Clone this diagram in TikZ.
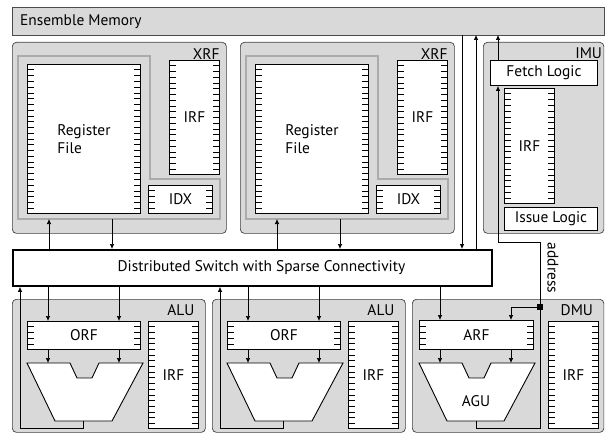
\documentclass[tikz,border=0pt]{standalone}
\usepackage{fontspec}
\setmainfont{PT Sans}
\usetikzlibrary{arrows.meta,calc}
\tikzset{
  unit/.style={draw=black!75, line width=0.7pt, fill=black!15, rounded corners=4pt, inner sep=0pt, anchor=north west},
  box/.style={draw, line width=0.9pt, fill=white, inner sep=0pt, anchor=north west},
  tag/.style={anchor=north east, inner sep=0pt},
  sig/.style={line width=0.7pt, -{Latex[length=5pt,width=4.5pt]}},
  wire/.style={line width=0.7pt},
}
%% tick marks on both inner sides of a register box
\newcommand\regticks[2]{%
  \foreach \k in {1,...,#2}{%
    \draw[line width=0.6pt] ($(#1.north west)!{\k/(#2+1)}!(#1.south west)$) -- ++(6.5,0);
    \draw[line width=0.6pt] ($(#1.north east)!{\k/(#2+1)}!(#1.south east)$) -- ++(-6.5,0);
  }}
\begin{document}
\begin{tikzpicture}[x=1pt, y=-1pt, font=\fontsize{15.4}{17.5}\selectfont]
  \useasboundingbox (0,0) rectangle (605,433);
  %% Ensemble memory and switch
  \node[draw=black!70, line width=0.7pt, fill=black!15, anchor=north west, inner sep=0pt,
        minimum width=591.5pt, minimum height=28pt] (mem) at (12,7) {};
  \node[anchor=west, inner sep=0pt] (memt) at ([xshift=8pt]mem.west) {Ensemble Memory};
  \node[box, line width=1.8pt, minimum width=479pt, minimum height=36pt] (sw) at (12,249) {};
  \node (swt) at ([xshift=9pt]sw.center) {Distributed Switch with Sparse Connectivity};
  %% XRF units
  \foreach \n/\xo in {1/0, 2/228}{
    \node[unit, minimum width=214pt, minimum height=191pt] (xrf\n) at (12+\xo,42) {};
    \node[tag] (xrft\n) at ([shift={(-7,6)}]xrf\n.north east) {XRF};
    \draw[black!33, line width=2.5pt] (18+\xo,56) -- ++(132,0) -- ++(0,123) -- ++(70,0)
      -- ++(0,40) -- ++(-202,0) -- cycle;
    \node[box, minimum width=113pt, minimum height=149pt, align=left] (rf\n) at (27+\xo,64) {Register\\File};
    \node[box, minimum width=50pt, minimum height=114pt] (irfx\n) at (169+\xo,60) {IRF};
    \node[box, minimum width=64pt, minimum height=28pt] (idx\n) at (148+\xo,185) {IDX};
    \regticks{rf\n}{25}
    \regticks{irfx\n}{19}
    \regticks{idx\n}{4}
    \coordinate (xin\n) at (49+\xo,219);
    \coordinate (xout\n) at (112+\xo,219);
    \draw[sig] (xin\n |- sw.north) -- (xin\n);
    \draw[sig] (xout\n) -- (xout\n |- sw.north);
  }
  %% IMU
  \node[unit, minimum width=120.5pt, minimum height=191pt] (imu) at (483,42) {};
  \node[tag] (imut) at ([shift={(-2,6)}]imu.north east) {IMU};
  \node[box, minimum width=107pt, minimum height=25pt] (fetch) at (490,60) {Fetch Logic};
  \node[box, minimum width=50pt, minimum height=115pt] (irfi) at (504,88) {IRF};
  \node[box, minimum width=93pt, minimum height=23pt] (issue) at (504,207) {Issue Logic};
  \regticks{irfi}{19}
  %% memory links
  \coordinate (m2s) at (462,35);
  \coordinate (s2m) at (476,35);
  \coordinate (f2m) at (498,35);
  \draw[sig] (m2s) -- (m2s |- sw.north);
  \draw[sig] (s2m |- sw.north) -- (s2m);
  \draw[sig] (f2m |- fetch.north) -- (f2m);
  %% ALU units
  \foreach \n/\xo in {1/0, 2/200}{
    \node[unit, minimum width=193pt, minimum height=133pt] (alu\n) at (12+\xo,299) {};
    \node[tag] (alut\n) at ([shift={(-11,5)}]alu\n.north east) {ALU};
    \node[box, minimum width=113pt, minimum height=28pt] (orf\n) at (27+\xo,321) {ORF};
    \node[box, minimum width=50pt, minimum height=107pt] (irfa\n) at (148+\xo,321) {IRF};
    \regticks{orf\n}{4}
    \regticks{irfa\n}{18}
    \draw[line width=0.9pt, fill=white] (27+\xo,363) -- ++(43,0) -- ++(7,15) -- ++(15,0)
      -- ++(7,-15) -- ++(44,0) -- ++(-31,58) -- ++(-57,0) -- cycle;
    \coordinate (ain\n) at (48+\xo,363);
    \coordinate (bin\n) at (119+\xo,363);
    \coordinate (aout\n) at (83+\xo,421);
    \coordinate (ret\n) at (20+\xo,428);
    \draw[sig] (ain\n |- sw.south) -- (ain\n |- orf\n.north);
    \draw[sig] (bin\n |- sw.south) -- (bin\n |- orf\n.north);
    \draw[sig] (ain\n |- orf\n.south) -- (ain\n);
    \draw[sig] (bin\n |- orf\n.south) -- (bin\n);
    \draw[sig] (aout\n) |- (ret\n) -- (ret\n |- sw.south);
  }
  %% DMU
  \node[unit, minimum width=191.5pt, minimum height=133pt] (dmu) at (412,299) {};
  \node[tag] (dmut) at ([shift={(-11,5)}]dmu.north east) {DMU};
  \node[box, minimum width=114pt, minimum height=29pt] (arf) at (419,320) {ARF};
  \node[box, minimum width=50pt, minimum height=107pt] (irfd) at (548,321) {IRF};
  \regticks{arf}{4}
  \regticks{irfd}{18}
  \draw[line width=0.9pt, fill=white] (419,363) -- ++(43,0) -- ++(7,15) -- ++(15,0)
    -- ++(7,-15) -- ++(44,0) -- ++(-31,58) -- ++(-57,0) -- cycle;
  \node (agu) at (476,401) {AGU};
  \coordinate (din) at (440,363);
  \coordinate (dbin) at (511,363);
  \coordinate (dout) at (476,421);
  \coordinate (dret) at (540,428);
  \coordinate (jn) at (540,307);
  \coordinate (addr) at (498,242);
  \draw[sig] (din |- sw.south) -- (din |- arf.north);
  \draw[sig] (din |- arf.south) -- (din);
  \draw[sig] (dbin |- arf.south) -- (dbin);
  %% address path back to fetch logic
  \draw[wire] (dout) |- (dret) -- (jn);
  \draw[sig] (jn) -| (dbin |- arf.north);
  \draw[sig] (jn) |- (addr) -- (addr |- fetch.south);
  \fill (jn) +(-3,-3) rectangle +(3,3);
  \node[rotate=-90] (addrt) at (553,268) {address};
\end{tikzpicture}
\end{document}
